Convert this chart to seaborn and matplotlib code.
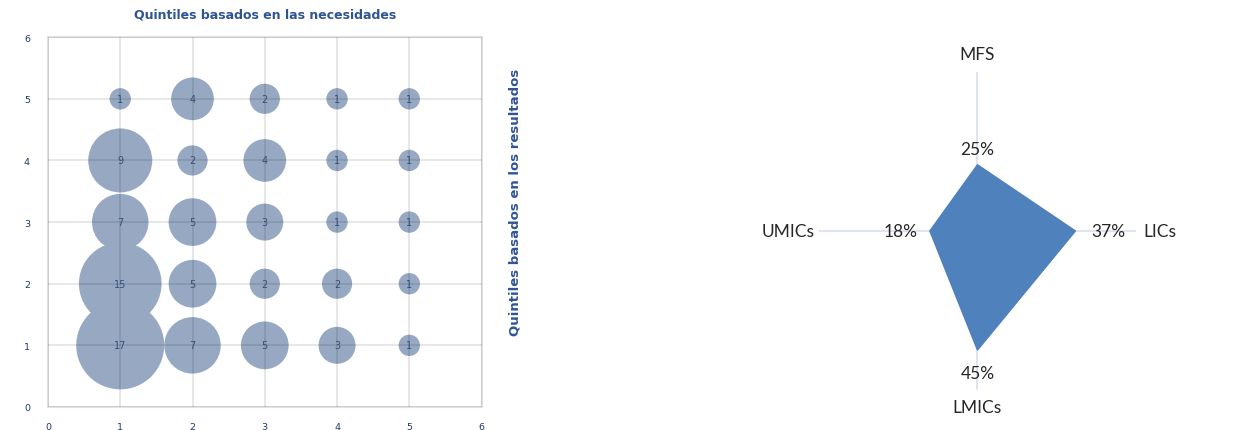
import numpy as np
import pandas as pd
import matplotlib
matplotlib.use("Agg")
import matplotlib.pyplot as plt
import seaborn as sns

# ── Data ──────────────────────────────────────────────────────────────────────

# bubble chart: needs-based quintile (x), results-based quintile (y), count
needs_q   = [1, 2, 3, 4, 5,  1, 2, 3, 4, 5,  1, 2, 3, 4, 5,  1, 2, 3, 4, 5,  1, 2, 3, 4, 5]
results_q = [5, 5, 5, 5, 5,  4, 4, 4, 4, 4,  3, 3, 3, 3, 3,  2, 2, 2, 2, 2,  1, 1, 1, 1, 1]
counts    = [1, 4, 2, 1, 1,  9, 2, 4, 1, 1,  7, 5, 3, 1, 1, 15, 5, 2, 2, 1, 17, 7, 5, 3, 1]
axis_ticks = [0, 1, 2, 3, 4, 5, 6]

# radar chart: share per country group
groups = ["MFS", "LICs", "LMICs", "UMICs"]
shares = [0.25, 0.37, 0.45, 0.18]
r_max = 0.6

BLUE_TXT = "#2f5496"
TICK_TXT = "#1f3864"

sns.set_style("white")
plt.rcParams["font.family"] = ["DejaVu Sans"]

fig = plt.figure(figsize=(12.46, 4.31), dpi=100)

# ── Bubble chart ──────────────────────────────────────────────────────────────

df = pd.DataFrame({"needs": needs_q, "results": results_q, "n": counts})

ax = fig.add_axes([0.0385, 0.0534, 0.348, 0.858])
ax.set_axisbelow(False)
sns.scatterplot(
    data=df, x="needs", y="results", size="n",
    sizes=(236, 4014), size_norm=(1, 17),
    color="#97a9c2", alpha=1.0, edgecolor="none",
    legend=False, ax=ax, zorder=1,
)
for _, row in df.iterrows():
    ax.text(row["needs"], row["results"], f"{row['n']}",
            ha="center", va="center", fontsize=7, color="#34507a", zorder=3)

ax.set_xlim(0, 6)
ax.set_ylim(0, 6)
ax.set_xticks(axis_ticks)
ax.set_yticks(axis_ticks)
ax.grid(True, color="black", alpha=0.1, linewidth=1.3, zorder=2)
for sp in ax.spines.values():
    sp.set_color("#e2e2e2")
    sp.set_linewidth(1.5)
ax.tick_params(axis="both", length=0, labelsize=6.8, labelcolor=TICK_TXT)
ax.tick_params(axis="x", pad=11)
ax.tick_params(axis="y", pad=13)
ax.set_xlabel("")
ax.set_ylabel("")
ax.set_title("Quintiles basados en las necesidades", fontsize=9,
             fontweight="bold", color=BLUE_TXT, pad=14)
fig.text(0.413, 0.53, "Quintiles basados en los resultados", rotation=90,
         ha="center", va="center", fontsize=9.5, fontweight="bold",
         color=BLUE_TXT)

# ── Radar chart ───────────────────────────────────────────────────────────────

angles = np.linspace(0, 2 * np.pi, len(groups), endpoint=False)
rax = fig.add_axes([0.657, 0.0928, 0.255, 0.738], projection="polar")
rax.set_theta_offset(np.pi / 2)
rax.set_theta_direction(-1)
rax.fill(np.append(angles, angles[0]), shares + shares[:1],
         color="#4f81bd", zorder=3)
rax.set_ylim(0, r_max)
rax.set_yticks([])
rax.set_xticks(angles)
rax.set_xticklabels([])
rax.xaxis.grid(True, color="#dce3ef", linewidth=1.3)
rax.spines["polar"].set_visible(False)
rax.set_facecolor("none")

radar_font = dict(family=["Lato", "DejaVu Sans"], fontsize=12.5, color="#262626")
# category labels just outside the outer ring
label_off = [0.07, 0.09, 0.065, 0.115]
for ang, name, off in zip(angles, groups, label_off):
    rax.text(ang, r_max + off, name, ha="center", va="center", **radar_font)
# value labels next to each vertex
val_pad = [0.06, 0.125, 0.085, 0.11]
for ang, v, p in zip(angles, shares, val_pad):
    rax.text(ang, v + p, f"{v:.0%}", ha="center", va="center", **radar_font)

plt.savefig("out.png", dpi=100)
